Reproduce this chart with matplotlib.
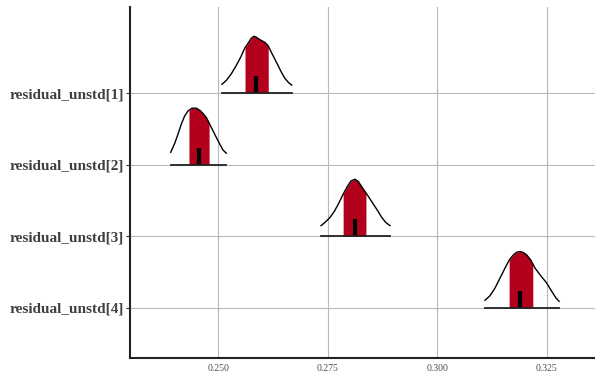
import matplotlib
matplotlib.use("Agg")
import matplotlib.pyplot as plt
import numpy as np

params = ["residual_unstd[1]", "residual_unstd[2]", "residual_unstd[3]", "residual_unstd[4]"]

# density outlines (x value, height in row units)
dens_x = [
    [0.25084, 0.25183, 0.25297, 0.25411, 0.25511, 0.25603, 0.25694, 0.25753, 0.25815, 0.25868,
     0.25945, 0.26059, 0.26135, 0.26210, 0.26288, 0.26363, 0.26438, 0.26516, 0.26607, 0.26676],
    [0.23913, 0.24005, 0.24080, 0.24155, 0.24233, 0.24308, 0.24400, 0.24498, 0.24575, 0.24651,
     0.24726, 0.24804, 0.24879, 0.24954, 0.25032, 0.25107, 0.25183],
    [0.27345, 0.27436, 0.27550, 0.27648, 0.27740, 0.27831, 0.27932, 0.28030, 0.28121, 0.28196,
     0.28288, 0.28365, 0.28441, 0.28539, 0.28639, 0.28731, 0.28822, 0.28920],
    [0.31089, 0.31203, 0.31317, 0.31431, 0.31545, 0.31644, 0.31735, 0.31813, 0.31888, 0.31963,
     0.32041, 0.32132, 0.32231, 0.32345, 0.32498, 0.32612, 0.32710, 0.32779],
]
dens_h = [
    [0.121, 0.176, 0.268, 0.385, 0.500, 0.625, 0.708, 0.764, 0.792, 0.778,
     0.746, 0.708, 0.663, 0.569, 0.476, 0.385, 0.292, 0.208, 0.143, 0.111],
    [0.172, 0.297, 0.426, 0.565, 0.681, 0.750, 0.788, 0.788, 0.760, 0.714,
     0.658, 0.565, 0.472, 0.381, 0.288, 0.204, 0.160],
    [0.149, 0.194, 0.264, 0.347, 0.450, 0.565, 0.681, 0.774, 0.797, 0.764,
     0.681, 0.611, 0.542, 0.450, 0.357, 0.264, 0.194, 0.149],
    [0.107, 0.171, 0.278, 0.417, 0.556, 0.671, 0.740, 0.778, 0.788, 0.774,
     0.740, 0.671, 0.556, 0.463, 0.347, 0.232, 0.139, 0.093],
]
inner_lo = [0.2561, 0.2433, 0.2785, 0.3164]
inner_hi = [0.2614, 0.2479, 0.2837, 0.3218]
medians = [0.2586, 0.2456, 0.2812, 0.3189]

xticks = [0.250, 0.275, 0.300, 0.325]
xticklabels = ["0.250", "0.275", "0.300", "0.325"]

fig = plt.figure(figsize=(5.95, 3.73), dpi=100)
ax = fig.add_axes([0.2193, 0.0389, 0.7807, 0.9423])

n = len(params)
rows = [n - i for i in range(n)]

for i in range(n):
    y0 = rows[i]
    xs = np.array(dens_x[i]); hs = np.array(dens_h[i])
    lo, hi = inner_lo[i], inner_hi[i]
    mask = (xs > lo) & (xs < hi)
    fx = np.concatenate([[lo], xs[mask], [hi]])
    fh = np.concatenate([[np.interp(lo, xs, hs)], hs[mask], [np.interp(hi, xs, hs)]])
    ax.fill_between(fx, y0, y0 + fh, color="#b2001d", linewidth=0, zorder=3)
    ax.plot([medians[i], medians[i]], [y0, y0 + 0.235], color="black", linewidth=3,
            solid_capstyle="butt", zorder=4)
    ax.plot(xs, y0 + hs, color="black", linewidth=1.0, zorder=5, solid_joinstyle="round")
    ax.plot([xs[0], xs[-1]], [y0, y0], color="#222222", linewidth=1.3, zorder=5)

ax.set_xlim(0.22995, 0.3360)
ax.set_ylim(0.295, 5.2)
ax.set_xticks(xticks)
ax.set_xticklabels(xticklabels, fontsize=7, family="Liberation Serif", color="#4d4d4d")
ax.set_yticks(rows)
ax.set_yticklabels(params, fontsize=11, family="Liberation Serif", fontweight="bold", color="#404040")
ax.tick_params(axis="x", length=0, pad=4)
ax.tick_params(axis="y", length=3, width=0.8, color="#333333", pad=2)
ax.grid(True, color="#b8b8b8", linewidth=0.8, zorder=0)
ax.set_axisbelow(True)
for s in ["top", "right"]:
    ax.spines[s].set_visible(False)
for s in ["left", "bottom"]:
    ax.spines[s].set_linewidth(1.5)
    ax.spines[s].set_color("#222222")

fig.savefig("out.png", dpi=100)
